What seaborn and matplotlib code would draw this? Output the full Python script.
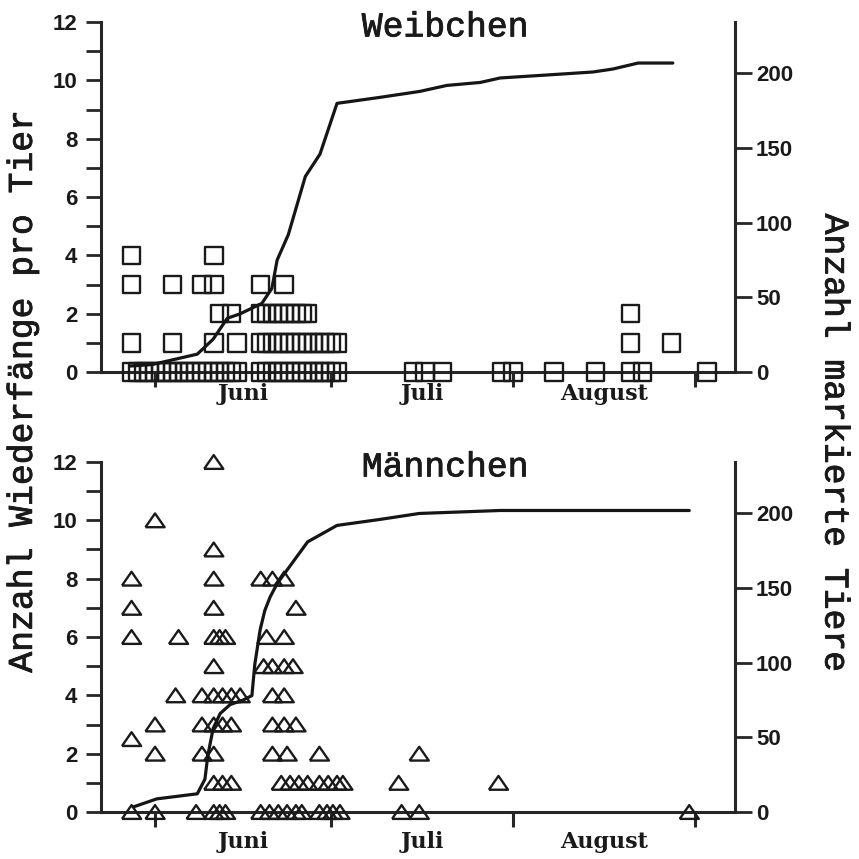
import numpy as np
import pandas as pd
import matplotlib
matplotlib.use('Agg')
import matplotlib.pyplot as plt
import matplotlib.patheffects as pe
import seaborn as sns

sns.set_style('ticks')

# Tag 0 = 1. Juni
month_start = [0, 30, 61, 92]
month_mid = [15, 45.5, 76.5]
month_names = ['Juni', 'Juli', 'August']

# Weibchen: Fangtage je Anzahl Wiederfänge (Quadrate)
w_days_0 = [-4, -3, -2, -1, 0, 1, 2, 3, 4, 5, 6, 7, 8, 9, 10, 11, 12, 13, 14,
            18, 19, 20, 21, 22, 23, 24, 25, 26, 27, 28, 29, 30, 31,
            44, 46, 49, 59, 61, 68, 75, 81, 83, 94]
w_days_1 = [-4, 3, 10, 14, 18, 19, 20, 21, 22, 23, 24, 25, 26, 27, 28, 29, 30, 31, 81, 88]
w_days_2 = [11, 13, 18, 19, 20, 21, 22, 23, 24, 25, 26, 81]
w_days_3 = [-4, 3, 8, 10, 18, 22]
w_days_4 = [-4, 10]

# Weibchen: kumulative Anzahl markierter Tiere
w_line_day = [-4.3, -0.5, 7.2, 9.9, 12.3, 14.5, 18.2, 19.9, 20.8, 22.7, 25.6, 28.1,
              31, 38.3, 45.1, 49.7, 55.4, 58.8, 66.8, 74.6, 78, 82.3, 88.2]
w_line_n = [4, 5, 12, 22, 36, 39, 46, 56, 75, 92, 131, 146,
            180, 184, 188, 192, 194, 197, 199, 201, 203, 207, 207]

# Männchen: Fangtage je Anzahl Wiederfänge (Dreiecke)
m_days_0 = [-4, 0, 7, 10, 11, 12, 18, 19.5, 21, 22.5, 24, 25, 28, 29.3, 30.3, 31.5, 42, 45, 91]
m_days_1 = [10, 11.5, 13, 21.5, 23, 24.5, 26, 28, 29.5, 31, 32, 41.5, 58.5]
m_days_2 = [0, 8, 10, 20, 22.5, 28, 45]
m_days_2_5 = [-4]
m_days_3 = [0, 8, 10, 11.5, 13, 20, 22, 24]
m_days_4 = [3.5, 8, 10, 11.5, 13, 14.5, 20, 22]
m_days_5 = [10, 18.5, 20, 22, 23.5]
m_days_6 = [-4, 4, 10, 11, 12, 19, 22]
m_days_7 = [-4, 10, 24]
m_days_8 = [-4, 10, 18, 20, 22]
m_days_9 = [10]
m_days_10 = [0]
m_days_12 = [10]

# Männchen: kumulative Anzahl markierter Tiere
m_line_day = [-3.7, 0.3, 7.2, 8.5, 9, 9.9, 11.1, 12.8, 15, 16.5, 17, 17.9, 18.7,
              19.6, 20.8, 26, 31, 38.3, 45, 58.8, 91]
m_line_n = [3.4, 8.8, 12.2, 22, 38, 56, 66, 72, 75, 78, 99, 122, 135,
            144, 153, 181, 192, 196, 200, 202, 202]


def to_frame(rows):
    parts = [pd.DataFrame({'tag': d, 'wieder': v}) for v, d in rows]
    return pd.concat(parts, ignore_index=True)


w_df = to_frame([(0, w_days_0), (1, w_days_1), (2, w_days_2), (3, w_days_3), (4, w_days_4)])
m_df = to_frame([(0, m_days_0), (1, m_days_1), (2, m_days_2), (2.5, m_days_2_5),
                 (3, m_days_3), (4, m_days_4), (5, m_days_5), (6, m_days_6),
                 (7, m_days_7), (8, m_days_8), (9, m_days_9), (10, m_days_10),
                 (12, m_days_12)])

mono = 'Liberation Mono'
thick = [pe.withStroke(linewidth=0.6, foreground='#1a1a1a')]
tri = [(-1, -0.72), (1, -0.72), (0, 0.72), (-1, -0.72)]

fig = plt.figure(figsize=(8.59, 8.59), dpi=100)
fig.patch.set_facecolor('white')

panels = [
    (0.5669, w_df, 's', 160, w_line_day, w_line_n, 'Weibchen', 8),
    (0.0547, m_df, tri, 190, m_line_day, m_line_n, 'Männchen', 14),
]

for bottom, df, marker, size, lx, ly, title, mpad in panels:
    ax = fig.add_axes([0.1176, bottom, 0.7381, 0.4075])
    ax2 = ax.twinx()

    sns.scatterplot(data=df, x='tag', y='wieder', marker=marker, s=size,
                    facecolor='none', edgecolor='#1a1a1a', linewidth=1.7,
                    clip_on=False, zorder=3, ax=ax, legend=False)
    sns.lineplot(x=lx, y=ly, ax=ax2, color='#151515', linewidth=2.3,
                 sort=False, estimator=None)

    ax.set_xlim(-9.2, 98.8)
    ax.set_ylim(0, 12)
    ax2.set_ylim(0, 234.5)
    ax.set_xlabel('')
    ax.set_ylabel('')
    ax2.set_ylabel('')

    for s in ['top', 'right']:
        ax.spines[s].set_visible(False)
    for s in ['top', 'left', 'bottom']:
        ax2.spines[s].set_visible(False)
    ax.spines['left'].set_linewidth(2.2)
    ax.spines['bottom'].set_linewidth(2.2)
    ax2.spines['right'].set_linewidth(2.2)

    ax.set_yticks(range(0, 13, 2))
    ax.set_yticks(range(1, 13, 2), minor=True)
    ax.tick_params(axis='y', which='both', direction='out', length=11, width=2, pad=6)
    ax2.set_yticks(range(0, 201, 50))
    ax2.tick_params(axis='y', direction='out', length=12, width=2, pad=3)

    ax.set_xticks(month_start)
    ax.set_xticklabels([])
    ax.set_xticks(month_mid, minor=True)
    ax.set_xticklabels(month_names, minor=True)
    ax.tick_params(axis='x', which='major', direction='out', length=11, width=2.2)
    ax.tick_params(axis='x', which='minor', length=0, pad=mpad)

    for lab in ax.get_yticklabels() + ax2.get_yticklabels():
        lab.set_fontfamily('Liberation Sans')
        lab.set_fontweight('bold')
        lab.set_fontsize(16)
        lab.set_color('#1a1a1a')
    for lab in ax.get_xticklabels(minor=True):
        lab.set_fontfamily('DejaVu Serif')
        lab.set_fontweight('bold')
        lab.set_fontsize(16)
        lab.set_color('#1a1a1a')

    ax.text(0.543, 0.986, title, transform=ax.transAxes, ha='center', va='center',
            fontfamily=mono, fontsize=25, color='#1a1a1a', path_effects=thick)

fig.text(0.026, 0.545, 'Anzahl Wiederfänge pro Tier', rotation=90, ha='center',
         va='center', fontfamily=mono, fontsize=25, color='#1a1a1a', path_effects=thick)
fig.text(0.972, 0.484, 'Anzahl markierte Tiere', rotation=270, ha='center',
         va='center', fontfamily=mono, fontsize=25, color='#1a1a1a', path_effects=thick)

fig.savefig('out.png', dpi=100, facecolor=fig.get_facecolor())
